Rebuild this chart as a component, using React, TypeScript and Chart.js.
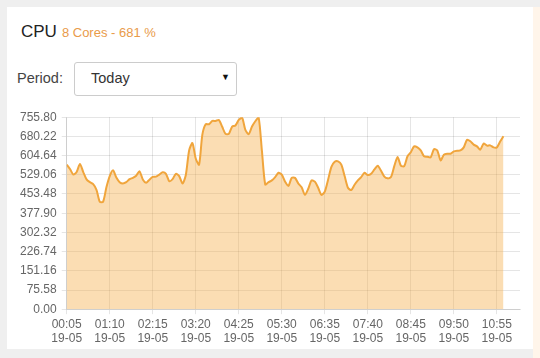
import React, { useEffect, useRef } from "react";
import { Chart, registerables } from "chart.js";

Chart.register(...registerables);

// CPU usage (%) every 5 minutes from 00:05 to 11:05 on 19-05
const cpuValues: number[] = [
  569, 552, 530, 540, 572, 540, 511, 500, 492, 470,
  423, 423, 480, 524, 547, 518, 500, 495, 500, 512,
  517, 525, 543, 511, 498, 510, 521, 522, 530, 539,
  533, 504, 512, 533, 524, 495, 528, 625, 654, 593,
  569, 687, 728, 728, 741, 741, 745, 718, 690, 690,
  719, 723, 745, 754, 706, 689, 719, 740, 755, 623,
  491, 500, 507, 520, 537, 530, 502, 485, 517, 517,
  495, 480, 450, 474, 507, 502, 478, 450, 463, 510,
  560, 580, 582, 569, 524, 478, 469, 490, 507, 520,
  537, 528, 533, 550, 565, 545, 522, 515, 520, 563,
  599, 565, 563, 602, 618, 641, 637, 625, 602, 600,
  598, 630, 625, 586, 608, 612, 612, 621, 624, 625,
  637, 667, 661, 648, 641, 628, 652, 644, 645, 637,
  637, 660, 681,
];

// x tick labels (every 13 samples = 65 minutes)
const tickTimes: string[] = [
  "00:05", "01:10", "02:15", "03:20", "04:25", "05:30",
  "06:35", "07:40", "08:45", "09:50", "10:55",
];
const tickDate = "19-05";
const ticksEvery = 13;
const slotCount = 137; // axis spans 00:05 .. 11:30

const yMax = 755.8;
const yTickCount = 11;

const FONT = "Arial, 'Liberation Sans', Helvetica, sans-serif";

export default function App() {
  const canvasRef = useRef<HTMLCanvasElement | null>(null);

  useEffect(() => {
    document.body.style.margin = "0";
    const ctx = canvasRef.current;
    if (!ctx) return;
    const points = cpuValues.map((v, i) => ({ x: i, y: v }));
    const chart = new Chart(ctx, {
      type: "line",
      data: {
        datasets: [
          {
            data: points,
            borderColor: "rgb(240,165,60)",
            backgroundColor: "rgba(244,170,66,0.4)",
            borderWidth: 2,
            pointRadius: 0,
            fill: "origin",
            tension: 0.25,
          },
        ],
      },
      options: {
        animation: false,
        responsive: true,
        maintainAspectRatio: false,
        layout: { padding: { left: 4, right: 6, top: 6, bottom: 0 } },
        plugins: { legend: { display: false }, tooltip: { enabled: false } },
        scales: {
          x: {
            type: "linear",
            min: 0,
            max: slotCount,
            grid: { color: "rgba(0,0,0,0.1)", tickLength: 5 },
            border: { color: "rgba(0,0,0,0.1)" },
            ticks: {
              stepSize: ticksEvery,
              includeBounds: false,
              autoSkip: false,
              maxRotation: 0,
              padding: 3,
              color: "#666",
              font: { family: FONT, size: 12 },
              callback: (v: any) => {
                const k = Math.round(Number(v) / ticksEvery);
                return tickTimes[k] ? [tickTimes[k], tickDate] : null;
              },
            },
          },
          y: {
            min: 0,
            max: yMax,
            grid: { color: "rgba(0,0,0,0.1)", tickLength: 5 },
            border: { color: "rgba(0,0,0,0.1)" },
            ticks: {
              count: yTickCount,
              padding: 5,
              color: "#666",
              font: { family: FONT, size: 12 },
              callback: (v: any) => Number(v).toFixed(2),
            },
          },
        },
      },
    });
    return () => chart.destroy();
  }, []);

  return (
    <div
      style={{
        position: "fixed",
        left: 0,
        top: 0,
        width: 540,
        height: 358,
        background: "#efefef",
        fontFamily: FONT,
        overflow: "hidden",
      }}
    >
      <div
        style={{
          position: "absolute",
          left: 533,
          top: 7,
          width: 7,
          height: 351,
          background: "#fff5ea",
        }}
      />
      <div
        style={{
          position: "absolute",
          left: 7,
          top: 7,
          width: 526,
          height: 342,
          background: "#ffffff",
        }}
      >
        <div
          style={{
            position: "absolute",
            left: 14,
            top: 15,
            whiteSpace: "nowrap",
          }}
        >
          <span style={{ fontSize: 17, color: "#222" }}>CPU</span>
          <span style={{ fontSize: 13, color: "#e99b4a", marginLeft: 5 }}>
            8 Cores - 681 %
          </span>
        </div>
        <div
          style={{
            position: "absolute",
            left: 10,
            top: 63,
            fontSize: 14.5,
            color: "#444",
          }}
        >
          Period:
        </div>
        <div
          style={{
            position: "absolute",
            left: 67,
            top: 55,
            width: 163,
            height: 34,
            border: "1px solid #cccccc",
            borderRadius: 3,
            boxSizing: "border-box",
            background: "#fff",
          }}
        >
          <span
            style={{
              position: "absolute",
              left: 16,
              top: 7,
              fontSize: 14.5,
              color: "#333",
            }}
          >
            Today
          </span>
          <span
            style={{
              position: "absolute",
              right: 6,
              top: 9,
              fontSize: 9,
              color: "#111",
            }}
          >
            ▼
          </span>
        </div>
        <div
          style={{
            position: "absolute",
            left: 4,
            top: 98,
            width: 515,
            height: 244,
          }}
        >
          <canvas ref={canvasRef} />
        </div>
      </div>
    </div>
  );
}
